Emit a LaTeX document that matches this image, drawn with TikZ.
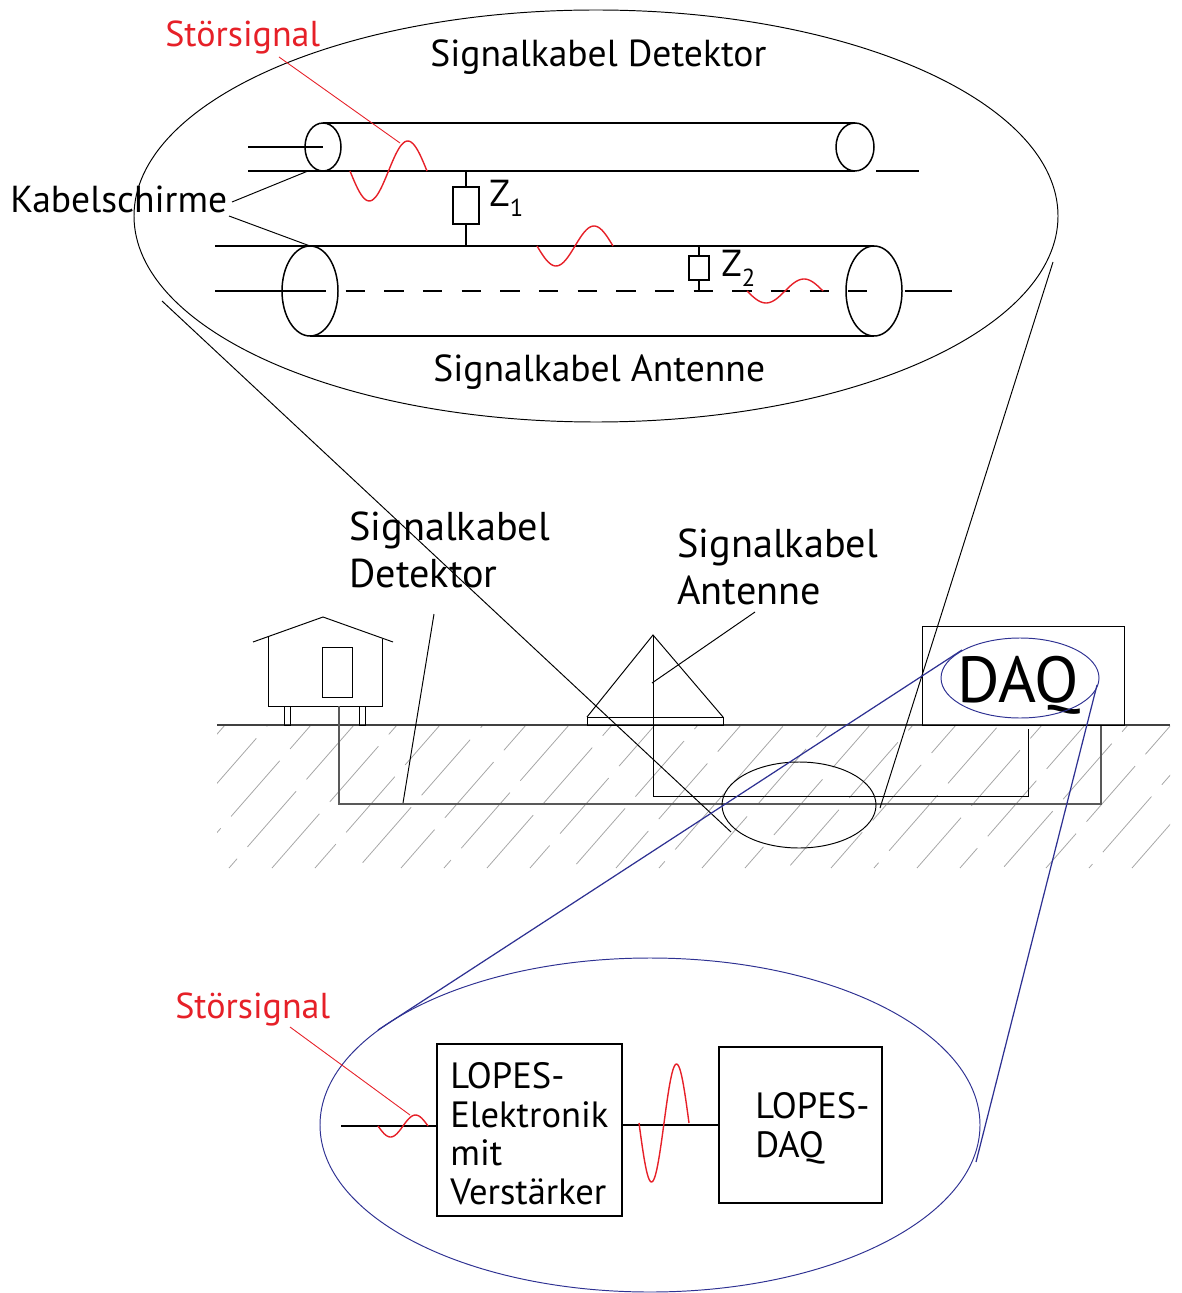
\documentclass[tikz,border=0pt]{standalone}
\usepackage{fontspec}
\setmainfont{PT Sans}
\definecolor{stoerrot}{RGB}{230,32,40}
\definecolor{lupe}{RGB}{46,49,146}
\tikzset{
  kabel/.style={line width=0.85pt},
  duenn/.style={line width=0.55pt},
  welle/.style={stoerrot, line width=0.8pt},
  schraffur/.style={black!35, line width=0.45pt},
  beschr/.style={font=\fontsize{21.4}{24}\selectfont, inner sep=0pt, anchor=base west},
  gross/.style={font=\fontsize{22.9}{26.7}\selectfont, inner sep=0pt, anchor=base west, align=left},
  kasten/.style={draw, line width=0.8pt, inner sep=0pt},
  kastentext/.style={font=\fontsize{20.8}{21.9}\selectfont, inner sep=0pt, anchor=base west, align=left},
}
\begin{document}
\begin{tikzpicture}[x=0.02cm, y=-0.02cm]
\useasboundingbox (0,0) rectangle (1181,1293);

\draw[duenn] (596,216) ellipse [x radius=462, y radius=206];

\draw[kabel] (323,147) ellipse [x radius=18, y radius=24];
\draw[kabel] (855,147) ellipse [x radius=19, y radius=24];
\draw[kabel] (323,123) -- (855,123);
\draw[kabel] (248,171) -- (855,171);
\draw[kabel] (248,147) -- (323,147);
\draw[kabel] (876,171) -- (919,171);

\draw[kabel] (310,291) ellipse [x radius=28, y radius=45];
\draw[kabel] (874,291) ellipse [x radius=28, y radius=45];
\draw[kabel] (215,246) -- (874,246);
\draw[kabel] (310,336) -- (874,336);
\draw[kabel] (215,291) -- (307,291);
\draw[kabel, dash pattern=on 11pt off 11pt] (307,291) -- (880,291);
\draw[kabel] (905,291) -- (952,291);

\draw[kabel] (466,171) -- (466,246);
\draw[kabel, fill=white] (453,187) rectangle (479,224);
\node[beschr] (z1) at (489,207) {Z\raisebox{-5.5pt}{\fontsize{14}{14}\selectfont 1}};
\draw[kabel] (699,246) -- (699,292);
\draw[kabel, fill=white] (689,256) rectangle (709,280);
\node[beschr] (z2) at (721,277) {Z\raisebox{-5.5pt}{\fontsize{14}{14}\selectfont 2}};

\draw[welle] plot[domain=0:360, samples=50] ({350+\x/360*77}, {171+30*sin(\x)});
\draw[welle] plot[domain=0:360, samples=50] ({537+\x/360*76}, {246+20*sin(\x)});
\draw[welle] plot[domain=0:360, samples=50] ({747+\x/360*76}, {291+12*sin(\x)});

\node[beschr, font=\fontsize{20.5}{24}\selectfont, text=stoerrot] (stoer1) at (165,47) {Störsignal};
\coordinate (s1) at (279,57);
\coordinate (w1) at (400,143);
\draw[welle, line width=0.5pt] (s1) -- (w1);

\node[beschr] (detektor) at (430,67) {Signalkabel Detektor};
\node[beschr] (antenne) at (433,382) {Signalkabel Antenne};
\node[beschr] (schirme) at (10,213) {Kabelschirme};
\coordinate (k1) at (232,202);
\coordinate (k2) at (229,216);
\coordinate (m1) at (308,171);
\coordinate (m2) at (310,246);
\draw[duenn] (k1) -- (m1);
\draw[duenn] (k2) -- (m2);

\begin{scope}
  \clip (217,725) rectangle (1170,868);
  \foreach \x [count=\i, evaluate=\i as \ph using {mod(\i*23,57)}] in {100,143,...,1200}
  {
    \draw[schraffur, dash pattern=on 42pt off 9pt, dash phase=\ph pt] (\x,868) -- ++(125,-143);
  }
\end{scope}
\draw[line width=0.7pt, black!75] (217,725) -- (1170,725);

\draw[duenn] (253,642) -- (323,617) -- (393,642);
\draw[duenn] (268,637) -- (268,706) -- (382,706) -- (382,639);
\draw[duenn] (322,647) rectangle (352,697);
\draw[duenn] (284,706) rectangle (290,725);
\draw[duenn] (359,706) rectangle (365,725);
\draw[line width=1.1pt, black!65] (339,706) -- (339,804) -- (1101,804) -- (1101,725);

\draw[duenn] (587,717) rectangle (723,725);
\draw[duenn] (587,717) -- (653,635) -- (723,717);
\draw[duenn] (653,635) -- (653,796) -- (1028,796) -- (1028,729);

\node[gross] (kabeldet) at (349,587) {Signalkabel\\Detektor};
\node[gross] (kabelant) at (677,604) {Signalkabel\\Antenne};
\coordinate (l1) at (434,614);
\coordinate (l2) at (403,803);
\coordinate (l3) at (755,612);
\coordinate (l4) at (652,683);
\draw[duenn] (l1) -- (l2);
\draw[duenn] (l3) -- (l4);

\draw[duenn] (922,626) rectangle (1124,725);
\node[inner sep=0pt, anchor=base west, font=\fontsize{37}{40}\selectfont] (daq) at (957,702) {DAQ};

\draw[duenn] (162,301) -- (731,832);
\draw[duenn] (1053,262) -- (880,808);
\draw[duenn] (799,805) ellipse [x radius=77, y radius=43];

\draw[lupe, duenn] (1020,678) ellipse [x radius=79, y radius=40];
\draw[lupe, line width=0.7pt] (378,1030) -- (962,650);
\draw[lupe, line width=0.7pt] (1097,685) -- (976,1162);
\draw[lupe, duenn] (650,1125) ellipse [x radius=330, y radius=167];

\node[kasten, minimum width=3.7cm, minimum height=3.44cm] (elektronik) at (529.5,1130) {};
\node[kasten, minimum width=3.26cm, minimum height=3.12cm] (lopesdaq) at (800.5,1125) {};
\node[kastentext] (elektroniktext) at (450,1204) {LOPES-\\Elektronik\\mit\\Verstärker};
\node[kastentext] (daqtext) at (755,1157) {LOPES-\\DAQ};
\coordinate (ein) at (341,1126);
\draw[kabel] (ein) -- (ein -| elektronik.west);
\draw[kabel] (elektronik.east |- lopesdaq.west) -- (lopesdaq.west);

\draw[welle] plot[domain=0:360, samples=40] ({378+\x/360*50}, {1126+11*sin(\x)});
\draw[welle] plot[domain=0:360, samples=60] ({639+\x/360*50}, {1123+59*sin(\x)});
\node[beschr, font=\fontsize{20.5}{24}\selectfont, text=stoerrot] (stoer2) at (175,1018) {Störsignal};
\coordinate (s2) at (290,1027);
\coordinate (w2) at (410,1115);
\draw[welle, line width=0.5pt] (s2) -- (w2);
\end{tikzpicture}
\end{document}
